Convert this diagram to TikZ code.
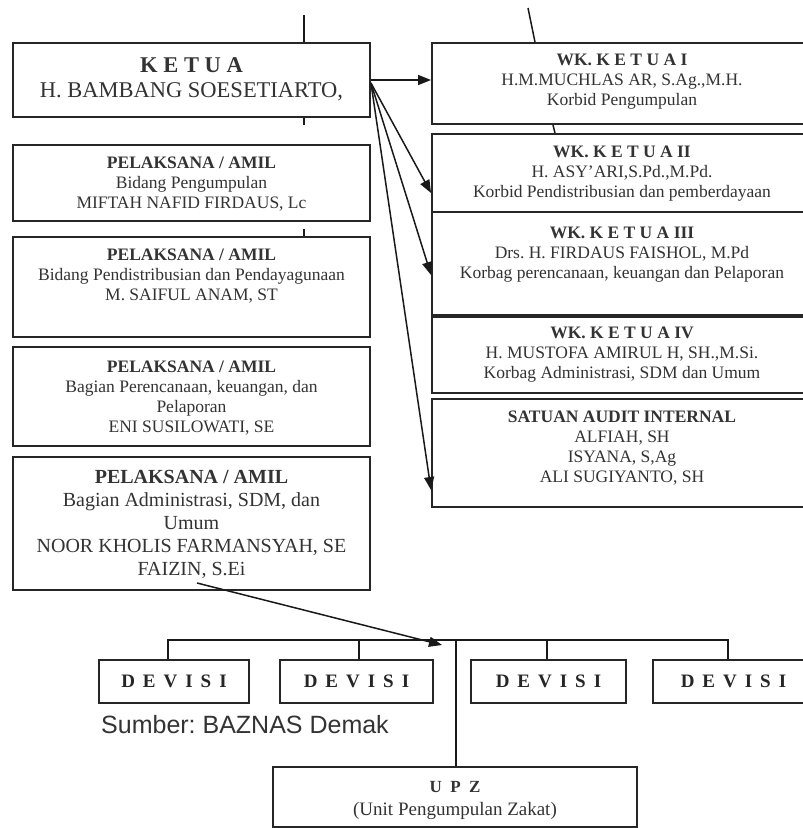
\documentclass[tikz,border=0pt]{standalone}
\usepackage{fontspec}
\setmainfont{Liberation Serif}
\newfontfamily\srcfont{Liberation Sans}
\usetikzlibrary{arrows.meta}
\newcommand\widesp[1]{\spaceskip #1\relax}
\frenchspacing
\begin{document}
\begin{tikzpicture}[x=1pt,y=-1pt]

    \tikzset{
      box/.style={
        draw=black!85,
        line width=1.9pt,
        fill=white,
        inner sep=0pt,
      },
      txt/.style={
        align=center,
        inner sep=0pt,
        anchor=north,
        text=black!80,
        font=\fontsize{17.5}{20}\selectfont,
      },
      devbox/.style={
        box,
        minimum height=43pt,
        text=black!85,
        font=\fontsize{19}{20}\selectfont\bfseries,
      },
      link/.style={draw=black!90, line width=1.5pt},
      arr/.style={link, -{Triangle[length=13pt,width=10pt]}},
    }
    \useasboundingbox (0,0) rectangle (803,828);
    \clip (0,0) rectangle (803,828);

	\node[box, minimum width=357pt, minimum height=74pt] (ketua) at (191.5,80) {};
	\node[box, minimum width=357pt, minimum height=76pt] (amil1) at (191.5,183) {};
	\node[box, minimum width=357pt, minimum height=100pt] (amil2) at (191.5,287) {};
	\node[box, minimum width=357pt, minimum height=99pt] (amil3) at (191.5,396.5) {};
	\node[box, minimum width=357pt, minimum height=133pt] (amil4) at (191.5,523.5) {};

	\node[box, minimum width=380pt, minimum height=81pt] (wk1) at (622,83.5) {};
	\node[box, minimum width=380pt, minimum height=78pt] (wk2) at (622,173) {};
	\node[box, minimum width=380pt, minimum height=103pt] (wk3) at (622,263.5) {};
	\node[box, minimum width=380pt, minimum height=76pt] (wk4) at (622,355) {};
	\node[box, minimum width=380pt, minimum height=108pt] (sai) at (622,453) {};

	\node[txt, font=\fontsize{22.5}{25}\selectfont] (ketuaT) at (191.5,57.1) {\textbf{K E T U A}\\H. BAMBANG SOESETIARTO,};
	\node[txt] (amil1T) at (191.5,156.4) {\textbf{PELAKSANA / AMIL}\\Bidang Pengumpulan\\MIFTAH NAFID FIRDAUS, Lc};
	\node[txt] (amil2T) at (191.5,248.4) {\textbf{PELAKSANA / AMIL}\\Bidang Pendistribusian dan Pendayagunaan\\M. SAIFUL ANAM, ST};
	\node[txt] (amil3T) at (191.5,360.4) {\textbf{PELAKSANA / AMIL}\\Bagian Perencanaan, keuangan, dan\\Pelaporan\\ENI SUSILOWATI, SE};
	\node[txt, font=\fontsize{20}{23}\selectfont] (amil4T) at (191.5,469.8) {\textbf{PELAKSANA / AMIL}\\Bagian Administrasi, SDM, dan\\Umum\\NOOR KHOLIS FARMANSYAH, SE\\FAIZIN, S.Ei};

	\node[txt] (wk1T) at (622,53.4) {\textbf{WK. K E T U A I}\\H.M.MUCHLAS AR, S.Ag.,M.H.\\Korbid Pengumpulan};
	\node[txt] (wk2T) at (622,145.4) {\textbf{WK. K E T U A II}\\H. ASY’ARI,S.Pd.,M.Pd.\\Korbid Pendistribusian dan pemberdayaan};
	\node[txt] (wk3T) at (622,226.4) {\textbf{WK. K E T U A III}\\Drs. H. FIRDAUS FAISHOL, M.Pd\\Korbag perencanaan, keuangan dan Pelaporan};
	\node[txt] (wk4T) at (622,326.4) {\textbf{WK. K E T U A IV}\\H. MUSTOFA AMIRUL H, SH.,M.Si.\\Korbag Administrasi, SDM dan Umum};
	\node[txt] (saiT) at (622,410.4) {\textbf{SATUAN AUDIT INTERNAL}\\ALFIAH, SH\\ISYANA, S,Ag\\ALI SUGIYANTO, SH};

	\node[devbox, minimum width=150pt] (d1) at (174,681.5) {\widesp{.42em}D E V I S I};
	\node[devbox, minimum width=153pt] (d2) at (356.5,681.5) {\widesp{.42em}D E V I S I};
	\node[devbox, minimum width=155pt] (d3) at (548.5,681.5) {\widesp{.42em}D E V I S I};
	\node[devbox, minimum width=161pt] (d4) at (733.5,681.5) {\widesp{.42em}D E V I S I};

	\node[box, minimum width=364pt, minimum height=60pt] (upz) at (455,797) {};
	\node[txt, font=\fontsize{19}{23}\selectfont] (upzT) at (455,780.7) {{\fontsize{17}{23}\selectfont\bfseries\widesp{.5em}U P Z}\\(Unit Pengumpulan Zakat)};

	\node[anchor=base west, inner sep=0pt, text=black!80, font=\srcfont\fontsize{25}{28}\selectfont] (src) at (101,733) {Sumber: BAZNAS Demak};

	\coordinate (topL) at (304,15);
	\coordinate (topR) at (528,8);
	\draw[link] (topL) -- (topL |- ketua.north);
	\draw[link] (topL |- ketua.south) -- ++(0,7);
	\draw[link] (topL |- amil2.north) -- ++(0,-7);
	\draw[link] (topR) -- ([xshift=7pt]topR |- wk1.north);
	\draw[link] ([xshift=25pt]topR |- wk1.south) -- ([xshift=27pt]topR |- wk2.north);

	\coordinate (fan) at ([yshift=-3pt]ketua.east);
	\draw[arr] (ketua.east) -- (ketua.east -| wk1.west);
	\draw[arr] (fan) -- ([yshift=-20pt]wk2.west);
	\draw[arr] (fan) -- ([yshift=-11.5pt]wk3.west);
	\draw[arr] (fan) -- ([yshift=-37pt]sai.west);

	\coordinate (bus) at (456,640);
	\coordinate (faizin) at (197,583);
	\draw[link] ([xshift=-6pt]d1.north) |- (bus) -| ([xshift=-5.5pt]d4.north);
	\draw[link] ([xshift=2.5pt]d2.north) -- ([xshift=2.5pt]d2.north |- bus);
	\draw[link] ([xshift=-1.5pt]d3.north) -- ([xshift=-1.5pt]d3.north |- bus);
	\draw[link] (bus) -- (bus |- upz.north);
	\draw[arr] (faizin) -- ([xshift=-14pt,yshift=-5pt]bus);

\end{tikzpicture}
\end{document}
